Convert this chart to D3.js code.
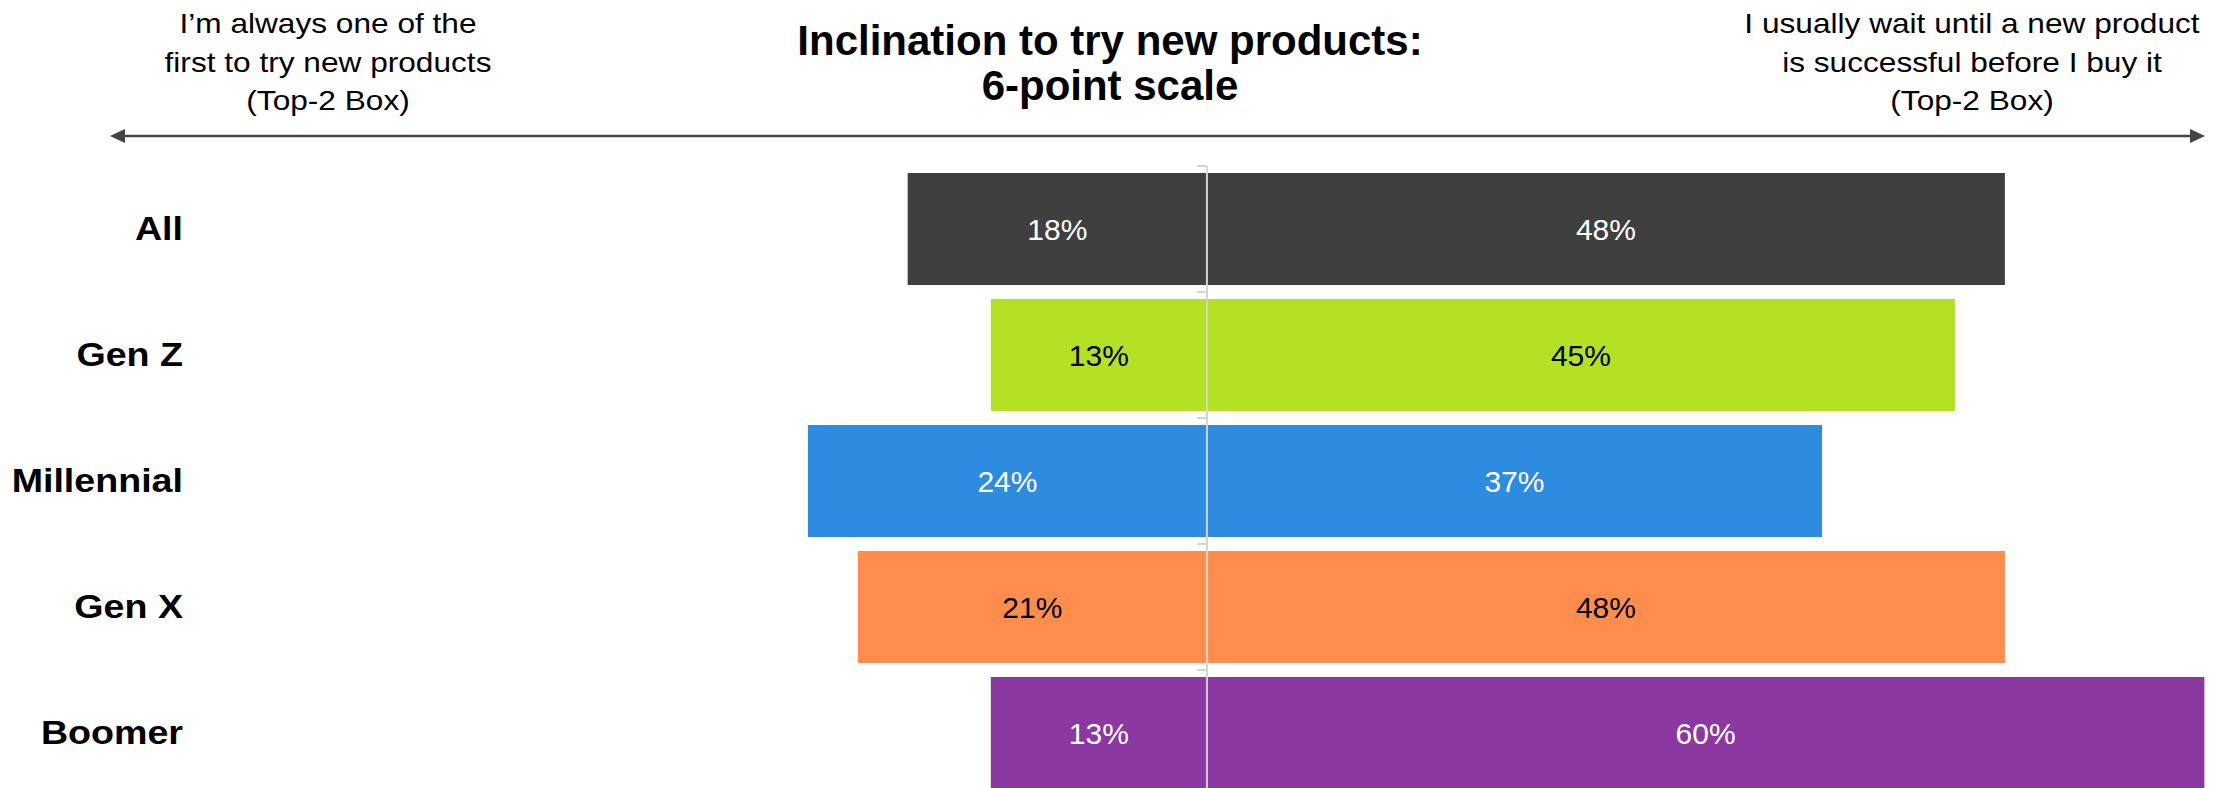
<!DOCTYPE html>
<html>
<head>
<meta charset="utf-8">
<script src="https://cdn.jsdelivr.net/npm/d3@7"></script>
<style>
  html, body { margin: 0; padding: 0; background: #ffffff; }
  svg { display: block; }
  text { font-family: "Liberation Sans", Arial, Helvetica, sans-serif; }
</style>
</head>
<body>
<svg id="chart" width="2221" height="788"></svg>
<script>
// Generations, top to bottom
const categories = ["All", "Gen Z", "Millennial", "Gen X", "Boomer"];
// Share who are always among the first to try new products (Top-2 Box, %)
const earlyAdopters = [18, 13, 24, 21, 13];
// Share who usually wait until a new product is successful (Top-2 Box, %)
const waiters = [48, 45, 37, 48, 60];
const barColors = ["#3e3f3e", "#b2e223", "#2d8be0", "#ff8d4e", "#8b38a0"];
const labelColors = ["#ffffff", "#000000", "#ffffff", "#000000", "#ffffff"];

const titleLines = ["Inclination to try new products:", "6-point scale"];
const leftNote = ["I\u2019m always one of the", "first to try new products", "(Top-2 Box)"];
const rightNote = ["I usually wait until a new product", "is successful before I buy it", "(Top-2 Box)"];

const W = 2221, H = 788;
const svg = d3.select("#chart");

// Diverging scale: early adopters extend left of zero, waiters to the right
const x = d3.scaleLinear().domain([-72.6, 61]).range([0, W]);
const y = d3.scaleBand().domain(categories).range([166, 796])
  .paddingInner(0.111).paddingOuter(0.0556);

const rows = categories.map((c, i) => ({
  cat: c, left: earlyAdopters[i], right: waiters[i],
  color: barColors[i], text: labelColors[i]
}));

// Bars
const g = svg.append("g");
g.selectAll("rect.left").data(rows).join("rect")
  .attr("class", "left")
  .attr("x", d => x(-d.left)).attr("y", d => y(d.cat))
  .attr("width", d => x(0) - x(-d.left)).attr("height", y.bandwidth())
  .attr("fill", d => d.color);
g.selectAll("rect.right").data(rows).join("rect")
  .attr("class", "right")
  .attr("x", x(0)).attr("y", d => y(d.cat))
  .attr("width", d => x(d.right) - x(0)).attr("height", y.bandwidth())
  .attr("fill", d => d.color);

// Zero line with small ticks at the band boundaries
const axisCol = "#d4d4d4";
const gap = y.step() * y.paddingInner() / 2;
svg.append("line")
  .attr("x1", x(0)).attr("x2", x(0))
  .attr("y1", y(categories[0]) - gap).attr("y2", H)
  .attr("stroke", axisCol).attr("stroke-width", 2);
svg.selectAll("line.tick").data(categories).join("line")
  .attr("class", "tick")
  .attr("x1", x(0) - 10).attr("x2", x(0))
  .attr("y1", d => y(d) - gap).attr("y2", d => y(d) - gap)
  .attr("stroke", axisCol).attr("stroke-width", 2);

// Value labels
const vlab = svg.append("g").attr("font-size", 30);
vlab.selectAll("text.l").data(rows).join("text")
  .attr("x", d => (x(-d.left) + x(0)) / 2)
  .attr("y", d => y(d.cat) + y.bandwidth() / 2 + 11)
  .attr("text-anchor", "middle").attr("fill", d => d.text)
  .text(d => d.left + "%");
vlab.selectAll("text.r").data(rows).join("text")
  .attr("x", d => (x(0) + x(d.right)) / 2)
  .attr("y", d => y(d.cat) + y.bandwidth() / 2 + 11)
  .attr("text-anchor", "middle").attr("fill", d => d.text)
  .text(d => d.right + "%");

// Category labels
svg.append("g").selectAll("text").data(categories).join("text")
  .attr("transform", d => `translate(183,${y(d) + y.bandwidth() / 2 + 11}) scale(1.14,1)`)
  .attr("text-anchor", "end")
  .attr("font-size", 33).attr("font-weight", "bold").attr("fill", "#000")
  .text(d => d);

// Title
svg.append("g").selectAll("text").data(titleLines).join("text")
  .attr("x", 1110).attr("y", (d, i) => 55 + i * 45)
  .attr("text-anchor", "middle")
  .attr("font-size", 42).attr("font-weight", "bold").attr("fill", "#000")
  .text(d => d);

// Side notes
function note(lines, cx) {
  svg.append("g").selectAll("text").data(lines).join("text")
    .attr("transform", (d, i) => `translate(${cx},${33 + i * 38.5}) scale(1.13,1)`)
    .attr("text-anchor", "middle")
    .attr("font-size", 28).attr("fill", "#000")
    .text(d => d);
}
note(leftNote, 328);
note(rightNote, 1972);

// Double-headed arrow
const arrowY = 136, ax0 = 110, ax1 = 2205, head = 15;
const arrowCol = "#444444";
svg.append("line")
  .attr("x1", ax0 + head - 2).attr("x2", ax1 - head + 2)
  .attr("y1", arrowY).attr("y2", arrowY)
  .attr("stroke", arrowCol).attr("stroke-width", 2.5);
svg.append("path")
  .attr("d", `M${ax0},${arrowY} L${ax0 + head},${arrowY - 7} L${ax0 + head},${arrowY + 7} Z`)
  .attr("fill", arrowCol);
svg.append("path")
  .attr("d", `M${ax1},${arrowY} L${ax1 - head},${arrowY - 7} L${ax1 - head},${arrowY + 7} Z`)
  .attr("fill", arrowCol);
</script>
</body>
</html>
